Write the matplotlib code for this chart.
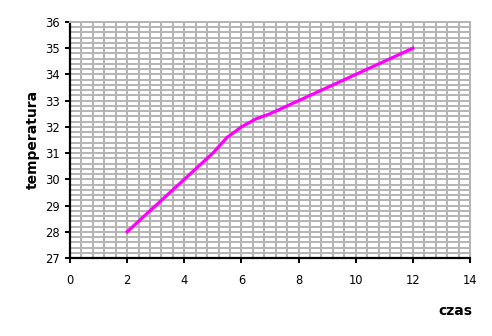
import numpy as np
import matplotlib
matplotlib.use("Agg")
import matplotlib.pyplot as plt
from matplotlib.ticker import MultipleLocator

plt.rcParams["font.family"] = ["DejaVu Sans"]

czas = [2, 3, 4, 5, 5.5, 6, 6.5, 7, 8, 9, 10, 11, 12]
temperatura = [28, 29, 30, 31, 31.6, 32, 32.3, 32.5, 33, 33.5, 34, 34.5, 35]

x_ticks = [0, 2, 4, 6, 8, 10, 12, 14]
y_ticks = [27, 28, 29, 30, 31, 32, 33, 34, 35, 36]

fig = plt.figure(figsize=(4.92, 3.36), dpi=100)
ax = fig.add_axes([70 / 492, 78 / 336, 400 / 492, 236 / 336])

grid_col = "#b4b4b4"
ax.plot(czas, temperatura, color="#ff00ff", lw=2.3, zorder=3)

ax.set_xlim(0, 14)
ax.set_ylim(27, 36)
ax.set_xticks(x_ticks)
ax.set_yticks(y_ticks)
ax.xaxis.set_minor_locator(MultipleLocator(0.4))
ax.yaxis.set_minor_locator(MultipleLocator(0.2))
ax.grid(which="both", color=grid_col, lw=1.4)
ax.set_axisbelow(True)

ax.tick_params(which="major", direction="out", length=3.6, width=1.4, labelsize=8.3)
ax.tick_params(axis="x", pad=8)
ax.tick_params(axis="y", pad=3.5)
ax.tick_params(which="minor", length=0)

for side in ("left", "bottom"):
    ax.spines[side].set_color("black")
    ax.spines[side].set_linewidth(1.6)
for side in ("top", "right"):
    ax.spines[side].set_color(grid_col)
    ax.spines[side].set_linewidth(1.4)

fig.text(33 / 492, 1 - 139 / 336, "temperatura", rotation=90, ha="center", va="center",
         fontsize=10, fontweight="bold")
fig.text(455 / 492, 1 - 315 / 336, "czas", ha="center", va="baseline",
         fontsize=10, fontweight="bold")

fig.savefig("out.png", dpi=100)
